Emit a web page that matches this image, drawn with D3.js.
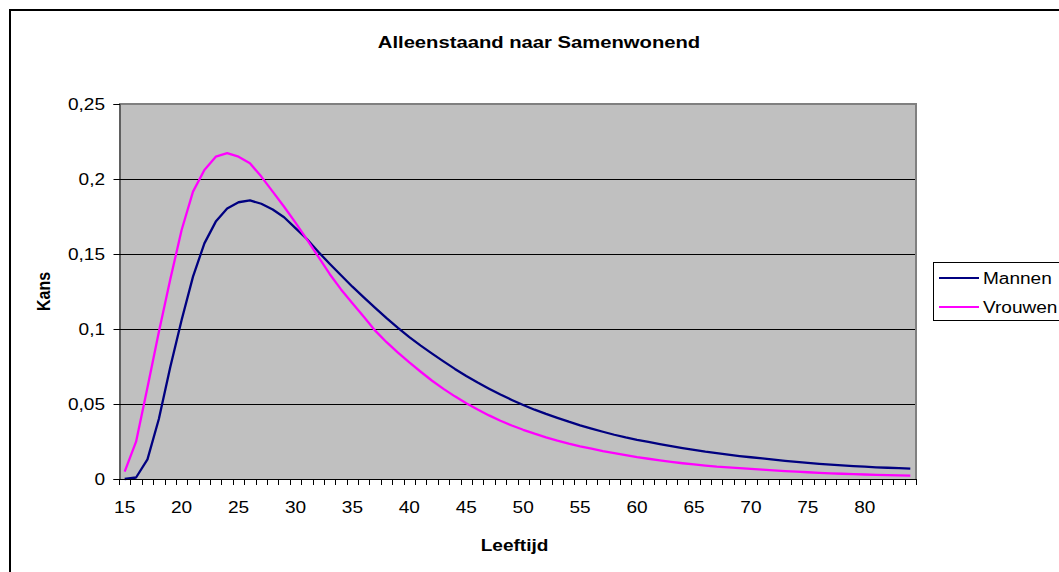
<!DOCTYPE html>
<html>
<head>
<meta charset="utf-8">
<script src="https://cdn.jsdelivr.net/npm/d3@7"></script>
<style>
  html, body { margin: 0; padding: 0; background: #ffffff; }
  svg { display: block; }
  text { font-family: "Liberation Sans", Arial, sans-serif; fill: #000; }
</style>
</head>
<body>
<svg id="chart" width="1059" height="572"></svg>
<script>
// Age categories (years)
const ages = d3.range(15, 85);

// Transition probability, single -> cohabiting, men
const mannen = [
  0.0000, 0.0010, 0.0131, 0.0400, 0.0745, 0.1060, 0.1349, 0.1571, 0.1716, 0.1804,
  0.1845, 0.1857, 0.1835, 0.1797, 0.1745, 0.1672, 0.1600, 0.1515, 0.1435, 0.1358,
  0.1282, 0.1211, 0.1141, 0.1072, 0.1007, 0.0946, 0.0889, 0.0836, 0.0784, 0.0734,
  0.0687, 0.0643, 0.0602, 0.0563, 0.0527, 0.0493, 0.0462, 0.0434, 0.0408, 0.0382,
  0.0358, 0.0336, 0.0315, 0.0295, 0.0277, 0.0261, 0.0247, 0.0233, 0.0219, 0.0206,
  0.0194, 0.0182, 0.0172, 0.0162, 0.0153, 0.0145, 0.0137, 0.0129, 0.0121, 0.0114,
  0.0107, 0.0101, 0.0096, 0.0091, 0.0086, 0.0082, 0.0078, 0.0075, 0.0072, 0.0069
];

// Transition probability, single -> cohabiting, women
const vrouwen = [
  0.0049, 0.0249, 0.0610, 0.0980, 0.1330, 0.1660, 0.1916, 0.2060, 0.2149, 0.2172,
  0.2149, 0.2105, 0.2016, 0.1916, 0.1815, 0.1709, 0.1598, 0.1482, 0.1367, 0.1264,
  0.1171, 0.1082, 0.0989, 0.0912, 0.0842, 0.0777, 0.0715, 0.0655, 0.0601, 0.0551,
  0.0505, 0.0463, 0.0424, 0.0388, 0.0357, 0.0328, 0.0302, 0.0278, 0.0256, 0.0236,
  0.0218, 0.0202, 0.0186, 0.0172, 0.0159, 0.0146, 0.0135, 0.0124, 0.0114, 0.0105,
  0.0097, 0.0089, 0.0082, 0.0077, 0.0072, 0.0067, 0.0062, 0.0057, 0.0053, 0.0049,
  0.0045, 0.0041, 0.0038, 0.0035, 0.0032, 0.0030, 0.0028, 0.0026, 0.0024, 0.0022
];

const yTickValues = [0, 0.05, 0.1, 0.15, 0.2, 0.25];
const yTickLabels = ["0", "0,05", "0,1", "0,15", "0,2", "0,25"];
const xLabelAges = [15, 20, 25, 30, 35, 40, 45, 50, 55, 60, 65, 70, 75, 80];

const seriesNames = ["Mannen", "Vrouwen"];
const seriesColors = ["#000080", "#FF00FF"];

const titleText = "Alleenstaand naar Samenwonend";
const xTitle = "Leeftijd";
const yTitle = "Kans";

// Horizontal text stretch of the chart's typography
const SX = 1.19;

const svg = d3.select("#chart");

// outer chart frame
svg.append("rect")
  .attr("x", 10).attr("y", 10)
  .attr("width", 1100).attr("height", 620)
  .attr("fill", "#fff").attr("stroke", "#000").attr("stroke-width", 2);

const plot = { left: 119, right: 916, top: 104, bottom: 479 };

const x = d3.scaleBand().domain(ages).range([plot.left, plot.right]).padding(0);
const y = d3.scaleLinear().domain([0, 0.25]).range([plot.bottom, plot.top]);
const cx = a => x(a) + x.bandwidth() / 2;

// plot background
svg.append("rect")
  .attr("x", plot.left).attr("y", plot.top)
  .attr("width", plot.right - plot.left).attr("height", plot.bottom - plot.top)
  .attr("fill", "#C0C0C0");

// horizontal gridlines
svg.append("g").selectAll("line")
  .data(yTickValues.filter(v => v > 0 && v < 0.25))
  .join("line")
  .attr("x1", plot.left).attr("x2", plot.right)
  .attr("y1", d => Math.round(y(d)) + 0.5).attr("y2", d => Math.round(y(d)) + 0.5)
  .attr("stroke", "#000").attr("stroke-width", 1);

// plot frame (top/right in grey)
svg.append("path")
  .attr("d", `M${plot.left},${plot.top} H${plot.right} V${plot.bottom}`)
  .attr("fill", "none").attr("stroke", "#808080").attr("stroke-width", 2);

// series lines
const line = d3.line()
  .x((d, i) => cx(ages[i]))
  .y(d => y(d));

[mannen, vrouwen].forEach((vals, k) => {
  svg.append("path")
    .datum(vals)
    .attr("d", line)
    .attr("fill", "none")
    .attr("stroke", seriesColors[k])
    .attr("stroke-width", 2.3)
    .attr("stroke-linejoin", "round");
});

// y axis
const yAxis = svg.append("g")
  .attr("transform", `translate(${plot.left + 0.5},0)`)
  .call(d3.axisLeft(y).tickValues(yTickValues).tickSize(6)
    .tickFormat((d, i) => yTickLabels[i]));
yAxis.select(".domain").attr("stroke", "#000");
yAxis.selectAll(".tick line").attr("stroke", "#000");
yAxis.selectAll(".tick text")
  .attr("x", null).attr("dy", null)
  .attr("transform", `translate(-14.5,5.8) scale(${SX},1)`)
  .style("font-size", "16px")
  .style("font-family", "'Liberation Sans', Arial, sans-serif");

// x axis: baseline, category-boundary ticks, labels every 5 years
const xAxis = svg.append("g")
  .attr("transform", `translate(0,${plot.bottom + 0.5})`)
  .call(d3.axisBottom(x).tickValues(xLabelAges).tickSize(0).tickPadding(0));
xAxis.select(".domain").remove();
xAxis.selectAll(".tick text")
  .attr("y", null).attr("dy", null)
  .attr("transform", `translate(0,33.5) scale(${SX},1)`)
  .style("font-size", "16px")
  .style("font-family", "'Liberation Sans', Arial, sans-serif");

svg.append("line")
  .attr("x1", plot.left).attr("x2", plot.right)
  .attr("y1", plot.bottom + 0.5).attr("y2", plot.bottom + 0.5)
  .attr("stroke", "#000");

const boundaries = ages.map(a => x(a)).concat([x(ages[ages.length - 1]) + x.bandwidth()]);
svg.append("g").selectAll("line")
  .data(boundaries)
  .join("line")
  .attr("x1", d => Math.round(d) + 0.5).attr("x2", d => Math.round(d) + 0.5)
  .attr("y1", plot.bottom).attr("y2", plot.bottom + 6)
  .attr("stroke", "#000");

// titles
svg.append("text")
  .attr("transform", `translate(539,48) scale(${SX},1)`)
  .attr("text-anchor", "middle")
  .style("font-size", "17px").style("font-weight", "bold")
  .text(titleText);

svg.append("text")
  .attr("transform", `translate(${(plot.left + plot.right) / 2 - 3},551) scale(${SX},1)`)
  .attr("text-anchor", "middle")
  .style("font-size", "16px").style("font-weight", "bold")
  .text(xTitle);

svg.append("text")
  .attr("transform", `translate(50,${(plot.top + plot.bottom) / 2}) scale(${SX},1) rotate(-90)`)
  .attr("text-anchor", "middle")
  .style("font-size", "16px").style("font-weight", "bold")
  .text(yTitle);

// legend
const legend = svg.append("g");
legend.append("rect")
  .attr("x", 933.5).attr("y", 262.5)
  .attr("width", 160).attr("height", 58)
  .attr("fill", "#fff").attr("stroke", "#000").attr("stroke-width", 1);

seriesNames.forEach((name, k) => {
  const ly = 278 + k * 29;
  legend.append("line")
    .attr("x1", 939).attr("x2", 979)
    .attr("y1", ly).attr("y2", ly)
    .attr("stroke", seriesColors[k]).attr("stroke-width", 2);
  legend.append("text")
    .attr("transform", `translate(983,${ly + 5.8}) scale(${SX},1)`)
    .style("font-size", "16px")
    .text(name);
});
</script>
</body>
</html>
